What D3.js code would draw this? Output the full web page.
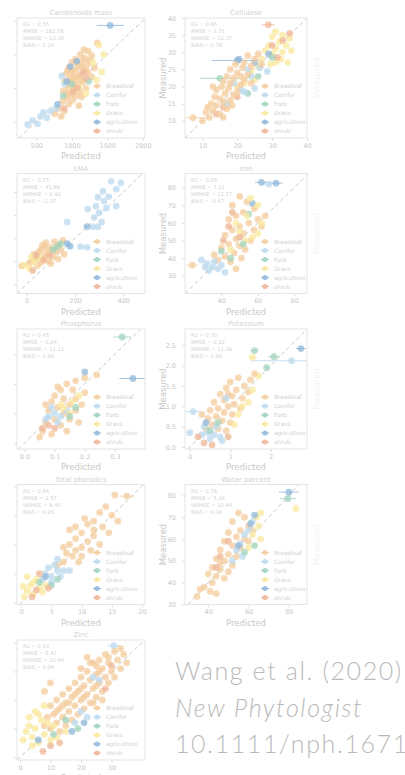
<!DOCTYPE html>
<html>
<head>
<meta charset="utf-8">
<script src="https://cdn.jsdelivr.net/npm/d3@7"></script>
<style>
  html, body { margin: 0; padding: 0; background: #ffffff; }
  svg { display: block; }
</style>
</head>
<body>
<svg id="chart" width="405" height="775"></svg>
<script>
// Plant functional types
const groupNames = ["Broadleaf", "Conifer", "Forb", "Grass", "agriculture", "shrub"];
const groupCodes = ["B", "C", "F", "G", "A", "S"];
const groupColors = ["#f4cc9c", "#bcd9ee", "#9fd3bd", "#f9e9a0", "#8fb7da", "#eeb597"];

// Each point: [predicted, measured, prediction sd, group code]
const carotenoidPoints = [
  [1360,1670,30,"B"],[1170,1570,25,"B"],[1230,1550,30,"B"],[1120,1500,20,"B"],[1280,1480,25,"B"],[1050,1430,20,"B"],
  [1150,1400,25,"B"],[1000,1380,20,"B"],[1230,1360,20,"B"],[1100,1330,20,"B"],[960,1300,20,"B"],[1060,1280,20,"B"],
  [1180,1260,25,"B"],[1010,1230,20,"B"],[920,1210,15,"B"],[1110,1190,20,"B"],[1280,1170,25,"B"],[980,1150,20,"B"],
  [1050,1120,20,"B"],[900,1100,15,"B"],[1160,1090,20,"B"],[1000,1060,20,"B"],[1090,1040,20,"B"],[950,1010,15,"B"],
  [1200,1000,20,"B"],[1030,980,20,"B"],[880,960,15,"B"],[1120,940,20,"B"],[990,910,15,"B"],[1060,880,20,"B"],
  [930,850,15,"B"],[1010,820,20,"B"],[870,800,15,"B"],[960,760,15,"B"],[1100,740,20,"B"],[820,700,15,"B"],
  [900,660,15,"B"],[760,620,15,"B"],[850,580,15,"B"],[1250,1420,25,"B"],[1320,1300,25,"B"],[1080,1180,20,"B"],
  [940,1260,20,"B"],[1140,870,20,"B"],[1150,1320,20,"B"],[1030,1160,20,"B"],[1130,1120,20,"B"],[970,1090,20,"B"],
  [1230,1230,25,"B"],[1070,1380,20,"B"],[990,1250,20,"B"],[1180,1450,25,"B"],[1040,1000,20,"B"],[940,920,15,"B"],
  [1200,1280,25,"B"],
  [380,460,20,"C"],[450,520,20,"C"],[520,470,20,"C"],[560,580,20,"C"],[600,640,20,"C"],[700,660,20,"C"],
  [780,700,20,"C"],[650,560,20,"C"],[900,1060,15,"C"],[860,1180,15,"C"],
  [1000,1060,20,"F"],[1240,1100,20,"F"],[880,890,15,"F"],
  [1380,1640,30,"G"],[1450,1500,30,"G"],[1300,1380,25,"G"],[1420,1240,30,"G"],[1200,920,25,"G"],[1350,1120,30,"G"],[1100,1010,20,"G"],
  [1540,1930,190,"A"],[1070,1400,20,"A"],[980,1320,20,"A"],[930,1100,15,"A"],[800,760,15,"A"],
  [1150,1230,20,"S"],[1020,940,20,"S"],[1200,1150,20,"S"],[890,700,15,"S"],[1080,1000,20,"S"]
];

const cellulosePoints = [
  [31,36,0.8,"G"],[33,35,0.8,"G"],[35,34,0.8,"G"],[30,34.5,0.8,"G"],[32,33,0.8,"G"],[34,32,0.8,"G"],[29,32,0.8,"G"],
  [31,31,0.8,"G"],[33,30,0.8,"G"],[35.5,30.5,0.8,"G"],[30,29.5,0.8,"G"],[32.5,28,0.8,"G"],[34.5,27,0.8,"G"],[28,30.5,0.8,"G"],
  [27,28,0.8,"G"],[29.5,26.5,0.8,"G"],[31,27,0.8,"G"],[26,26,0.8,"G"],[24,24.5,0.8,"G"],[22,21,0.8,"G"],[20,20,0.7,"G"],[25,22,0.7,"G"],
  [28.9,38,1.9,"S"],[33,33.5,1,"S"],[30,32,0.8,"S"],[35,35.5,0.8,"S"],[31.5,28.5,0.8,"S"],[16,14,0.6,"S"],[14,12,0.6,"S"],[20,17,0.6,"S"],
  [20,27.6,7.2,"A"],[20.5,28,0.8,"A"],[25,27,0.6,"A"],[29,29.5,0.8,"A"],
  [15,22.4,5.8,"F"],[26,23,0.6,"F"],[30,28.5,0.6,"F"],[23,18,0.6,"F"],
  [28.6,24.4,0.6,"C"],[24,23,0.6,"C"],[21,19,0.6,"C"],[19,21,0.6,"C"],[23,25,0.6,"C"],[22,18.5,0.6,"C"],[26.5,25.5,0.6,"C"],
  [17,15,0.6,"C"],[25,19.5,0.6,"C"],
  [7.3,10.9,3.4,"B"],[10,10,0.6,"B"],[12,11,0.6,"B"],[11,12.5,0.6,"B"],[13,13,0.6,"B"],[15,12,0.6,"B"],[14,14.5,0.6,"B"],
  [16,15.5,0.6,"B"],[12.5,15,0.6,"B"],[17,13.5,0.6,"B"],[15,16.5,0.6,"B"],[18,16,0.6,"B"],[13.5,17,0.6,"B"],[16.5,18,0.6,"B"],
  [19,17.5,0.6,"B"],[14,19,0.6,"B"],[17.5,19.5,0.6,"B"],[20,18.5,0.6,"B"],[15.5,20,0.6,"B"],[18,21,0.6,"B"],[21,20.5,0.6,"B"],
  [16,21.5,0.6,"B"],[19,22.5,0.6,"B"],[22,22,0.6,"B"],[17,23,0.6,"B"],[20,24,0.6,"B"],[23,23.5,0.6,"B"],[18,25,0.6,"B"],
  [21.5,25.5,0.6,"B"],[24,26,0.6,"B"],[22,27,0.6,"B"],[25,28,0.6,"B"],[19.5,26.5,0.6,"B"],[26,29.5,0.6,"B"],[23,29,0.6,"B"],
  [21,23,0.6,"B"],[24,21,0.6,"B"],[13,20,0.6,"B"],[11.5,14,0.6,"B"],[18.5,14.5,0.6,"B"],[16,11,0.6,"B"],[27,26.5,0.6,"B"]
];

const lmaPoints = [
  [350,446,10,"C"],[371,412,10,"C"],[316,403,10,"C"],[295,377,10,"C"],[340,380,10,"C"],[371,339,10,"C"],[253,326,10,"C"],
  [287,339,10,"C"],[330,330,10,"C"],[300,310,10,"C"],[274,249,10,"C"],[295,249,10,"C"],[310,270,10,"C"],[168,270,10,"C"],
  [223,163,10,"C"],[390,440,10,"C"],[320,360,10,"C"],[280,290,10,"C"],[250,160,10,"C"],
  [84,133,8,"B"],[60,150,8,"B"],[100,160,8,"B"],[120,140,8,"B"],[70,120,8,"B"],[40,110,8,"B"],[90,100,8,"B"],[130,170,8,"B"],
  [50,140,8,"B"],[110,120,8,"B"],[80,180,8,"B"],[140,150,8,"B"],[30,130,8,"B"],[100,90,8,"B"],[60,95,8,"B"],[20,100,8,"B"],
  [150,190,8,"B"],[75,160,8,"B"],[115,185,8,"B"],[45,80,8,"B"],[10,90,8,"B"],[-20,80,12,"B"],[130,110,8,"B"],[95,145,8,"B"],
  [65,170,8,"B"],[155,130,8,"B"],
  [-13,82,10,"G"],[10,70,8,"G"],[30,95,8,"G"],[20,120,8,"G"],[55,115,8,"G"],
  [126,163,8,"F"],[110,150,8,"F"],[140,175,8,"F"],
  [168,176,8,"A"],[180,165,8,"A"],[250,250,8,"A"],
  [40,125,8,"S"],[70,105,8,"S"],[25,60,8,"S"],[95,125,8,"S"]
];

const ironPoints = [
  [62,83,3.5,"A"],[70,82.5,3.5,"A"],[57,71,1,"A"],[55,65,1,"F"],
  [50,75,1,"B"],[54,72,1,"B"],[46,70,1,"B"],[58,68,1,"B"],[52,66,1,"B"],[48,64,1,"B"],[60,62,1,"B"],[44,62,1,"B"],
  [55,60,1,"B"],[50,58,1,"B"],[46,56,1,"B"],[58,56,1,"B"],[52,54,1,"B"],[42,53,1,"B"],[48,51,1,"B"],[56,50,1,"B"],
  [44,48,1,"B"],[50,47,1,"B"],[40,46,1,"B"],[53,45,1,"B"],[47,43,1,"B"],[42,41,1,"B"],[38,39,1,"B"],[45,38,1,"B"],
  [51,40,1,"B"],[62,58,1,"B"],[64,64,1,"B"],[36,42,1,"B"],[24,36,3,"B"],[48,34,1,"B"],
  [56,74,1,"G"],[60,70,1,"G"],[54,64,1,"G"],[62,60,1,"G"],[50,55,1,"G"],[57,52,1,"G"],[48,60,1,"G"],[53,50,1,"G"],[45,45,1,"G"],[60,54,1,"G"],
  [29,39,1.5,"C"],[32,37,1,"C"],[35,35,1,"C"],[38,34,1,"C"],[33,33,1,"C"],[40,36,1,"C"],[36,38,1,"C"],[42,32,1,"C"],[31,35,1,"C"],[66,82,3.5,"C"],
  [45,40,1,"F"],[52,48,1,"F"],[40,44,1,"F"],
  [46,66,1,"S"],[44,58,1,"S"],[50,52,1,"S"],[41,50,1,"S"]
];

const phosphorusPoints = [
  [0.324,0.358,0.03,"F"],[0.36,0.218,0.045,"A"],
  [0.24,0.23,0.006,"B"],[0.2,0.22,0.005,"B"],[0.17,0.21,0.005,"B"],[0.14,0.2,0.005,"B"],[0.12,0.18,0.005,"B"],[0.16,0.18,0.005,"B"],
  [0.2,0.17,0.005,"B"],[0.1,0.16,0.005,"B"],[0.13,0.15,0.005,"B"],[0.17,0.15,0.005,"B"],[0.09,0.14,0.005,"B"],[0.15,0.13,0.005,"B"],
  [0.11,0.12,0.005,"B"],[0.19,0.13,0.005,"B"],[0.08,0.11,0.005,"B"],[0.13,0.1,0.005,"B"],[0.17,0.11,0.005,"B"],[0.1,0.08,0.005,"B"],
  [0.15,0.08,0.005,"B"],[0.07,0.07,0.005,"B"],[0.12,0.06,0.005,"B"],[0.06,0.04,0.005,"B"],[0.09,0.03,0.005,"B"],[0.05,0.02,0.005,"B"],
  [0.14,0.04,0.005,"B"],[0.18,0.07,0.005,"B"],[0.11,0.19,0.005,"B"],[0.07,0.13,0.005,"B"],
  [0.1,0.1,0.005,"C"],[0.12,0.09,0.005,"C"],[0.08,0.09,0.005,"C"],[0.11,0.07,0.005,"C"],[0.14,0.11,0.005,"C"],[0.09,0.12,0.005,"C"],[0.07,0.08,0.005,"C"],
  [0.13,0.12,0.005,"G"],[0.16,0.14,0.005,"G"],[0.15,0.1,0.005,"G"],[0.12,0.13,0.005,"G"],[0.18,0.16,0.005,"G"],
  [0.15,0.09,0.005,"F"],[0.17,0.12,0.005,"F"],
  [0.2,0.24,0.005,"A"],
  [0.06,0.05,0.005,"S"],[0.08,0.06,0.005,"S"],[0.1,0.05,0.005,"S"]
];

const potassiumPoints = [
  [2.75,2.42,0.12,"A"],[2.52,2.12,1.0,"C"],[2.08,2.22,0.15,"F"],[1.6,2.37,0.1,"F"],[1.55,2.2,0.1,"G"],[1.9,1.95,0.05,"F"],[1.7,1.75,0.05,"G"],
  [0.08,0.87,0.2,"C"],
  [1.2,1.7,0.04,"B"],[1.0,1.6,0.04,"B"],[1.35,1.5,0.04,"B"],[0.9,1.45,0.04,"B"],[1.15,1.4,0.04,"B"],[0.75,1.3,0.04,"B"],
  [1.05,1.25,0.04,"B"],[1.3,1.2,0.04,"B"],[0.85,1.15,0.04,"B"],[0.6,1.1,0.04,"B"],[1.1,1.05,0.04,"B"],[0.95,1.0,0.04,"B"],
  [0.7,0.95,0.04,"B"],[1.25,0.95,0.04,"B"],[0.5,0.9,0.04,"B"],[0.85,0.85,0.04,"B"],[1.05,0.8,0.04,"B"],[0.65,0.75,0.04,"B"],
  [0.45,0.7,0.04,"B"],[0.8,0.65,0.04,"B"],[1.0,0.6,0.04,"B"],[0.55,0.55,0.04,"B"],[0.7,0.45,0.04,"B"],[0.9,0.4,0.04,"B"],
  [0.4,0.45,0.04,"B"],[1.45,1.35,0.04,"B"],[1.5,1.65,0.04,"B"],[0.3,0.8,0.04,"B"],[1.6,1.8,0.04,"B"],[0.95,1.3,0.04,"B"],
  [0,0.35,0.04,"C"],[0.3,0.3,0.04,"C"],[0.45,0.35,0.04,"C"],[0.6,0.3,0.04,"C"],[0.5,0.2,0.04,"C"],[0.35,0.5,0.04,"C"],
  [0.75,0.25,0.04,"C"],[0.65,0.5,0.04,"C"],[0.9,1.2,0.04,"C"],[0.8,0.15,0.04,"C"],
  [1.3,1.0,0.04,"G"],[1.45,1.1,0.04,"G"],[1.2,0.8,0.04,"G"],[1.55,1.4,0.04,"G"],[1.1,0.55,0.04,"G"],
  [0.7,0.6,0.04,"F"],[0.5,0.4,0.04,"F"],
  [0.35,0.1,0.04,"S"],[0.55,0.05,0.04,"S"],[0.95,0.25,0.04,"S"],[0.2,0.25,0.04,"S"],
  [0.4,0.6,0.04,"A"]
];

const phenolicsPoints = [
  [15.5,18.5,0.3,"B"],[17.5,18.3,1.2,"B"],[14,16.5,0.3,"B"],[15,15,0.3,"B"],[13,15.5,0.3,"B"],[12,14,0.3,"B"],[13.5,13,0.3,"B"],
  [11,13.5,0.3,"B"],[14.5,12,0.3,"B"],[10,12,0.3,"B"],[12,11.5,0.3,"B"],[9,11,0.3,"B"],[11,10.5,0.3,"B"],[13,10,0.3,"B"],
  [8,10,0.3,"B"],[10,9.5,0.3,"B"],[9,9,0.3,"B"],[11.5,9,0.3,"B"],[7.5,8.5,0.3,"B"],[8.5,8,0.3,"B"],[10,8,0.3,"B"],[7,7,0.3,"B"],
  [9.5,7,0.3,"B"],[6,6.5,0.3,"B"],[12,12.5,0.3,"B"],[8,12.5,0.3,"B"],[16,14,0.3,"B"],[10.5,14.5,0.3,"B"],[9,13,0.3,"B"],[7,9.5,0.3,"B"],
  [4,5,0.3,"C"],[5,4.5,0.3,"C"],[6,5.5,0.3,"C"],[5.5,6.5,0.3,"C"],[4.5,6,0.3,"C"],[6.5,4.5,0.3,"C"],[3.5,4,0.3,"C"],[7,5.5,0.3,"C"],
  [5,3.5,0.3,"C"],[8,5.5,0.3,"C"],[6,7.5,0.3,"C"],
  [1,2,0.4,"G"],[2,1.5,0.4,"G"],[1.5,3,0.4,"G"],[3,2.5,0.4,"G"],[2.5,4,0.4,"G"],[0.5,1,0.4,"G"],[3.5,1.8,0.4,"G"],[2,3.5,0.4,"G"],
  [4,3,0.4,"G"],[1,4.5,0.4,"G"],[0.3,2.8,0.4,"G"],
  [5,3,0.3,"F"],[3,3.5,0.3,"F"],[6,4,0.3,"F"],
  [4,4.5,0.3,"A"],
  [2.5,2.2,0.3,"S"],[4.5,2.5,0.3,"S"],[1.8,1,0.3,"S"],[3,5,0.3,"S"]
];

const waterPoints = [
  [80,81.5,5,"A"],[79.5,78.5,4,"F"],[83.5,74,1,"G"],
  [55,72,0.6,"B"],[58,70,0.6,"B"],[52,68,0.6,"B"],[60,66,0.6,"B"],[56,64,0.6,"B"],[50,63,0.6,"B"],[54,61,0.6,"B"],[58,60,0.6,"B"],
  [48,59,0.6,"B"],[52,57,0.6,"B"],[56,56,0.6,"B"],[46,55,0.6,"B"],[50,53,0.6,"B"],[54,52,0.6,"B"],[44,51,0.6,"B"],[48,50,0.6,"B"],
  [52,48,0.6,"B"],[42,47,0.6,"B"],[46,46,0.6,"B"],[50,45,0.6,"B"],[40,44,0.6,"B"],[44,43,0.6,"B"],[48,42,0.6,"B"],[42,40,0.6,"B"],
  [38,38,0.6,"B"],[41,36,0.6,"B"],[36,37,0.6,"B"],[44,35,0.6,"B"],[34.5,33.7,0.6,"B"],[46,49,0.6,"B"],[62,64,0.6,"B"],[60,59,0.6,"B"],
  [56,58,0.6,"C"],[58,62,0.6,"C"],[54,55,0.6,"C"],[60,64,0.6,"C"],[57,52,0.6,"C"],[62,68,0.6,"C"],[52,50,0.6,"C"],
  [64,70,0.6,"G"],[66,72,0.6,"G"],[62,62,0.6,"G"],[65,66,0.6,"G"],[60,56,0.6,"G"],[66,60,0.6,"G"],
  [63,71,0.6,"A"],[61,67,0.6,"A"],[55,57,0.6,"A"],
  [63,57,0.6,"F"],[58,54,0.6,"F"],
  [50,59,0.6,"S"],[46,52,0.6,"S"],[44,47,0.6,"S"]
];

const zincPoints = [
  [30.7,39,2,"C"],
  [28,36,0.8,"B"],[31,37,0.8,"B"],[26,34,0.8,"B"],[29,33,0.8,"B"],[24,33,0.8,"B"],[32,34,0.8,"B"],[27,31,0.8,"B"],[30,30,0.8,"B"],
  [22,30,0.8,"B"],[25,29,0.8,"B"],[28,28,0.8,"B"],[20,28,0.8,"B"],[23,27,0.8,"B"],[26,26,0.8,"B"],[29,26,0.8,"B"],[18,26,0.8,"B"],
  [21,25,0.8,"B"],[24,24,0.8,"B"],[27,23,0.8,"B"],[16,24,0.8,"B"],[19,23,0.8,"B"],[22,22,0.8,"B"],[25,21,0.8,"B"],[14,22,0.8,"B"],
  [17,21,0.8,"B"],[20,20,0.8,"B"],[23,19,0.8,"B"],[12,20,0.8,"B"],[15,19,0.8,"B"],[18,18,0.8,"B"],[21,17,0.8,"B"],[10,18,0.8,"B"],
  [13,17,0.8,"B"],[16,16,0.8,"B"],[19,15,0.8,"B"],[11,15,0.8,"B"],[14,14,0.8,"B"],[17,13,0.8,"B"],[9,14,0.8,"B"],[12,12,0.8,"B"],
  [15,11,0.8,"B"],[10,10,0.8,"B"],[13,9,0.8,"B"],[8,11,0.8,"B"],[33,31,0.8,"B"],[31,28,0.8,"B"],[34,36,0.8,"B"],[25,32,0.8,"B"],
  [10,26,0.8,"B"],[8,23,0.8,"B"],[22,35,0.8,"B"],[35,33,0.8,"B"],
  [20,31,0.8,"B"],[23,33,0.8,"B"],[26,30,0.8,"B"],[29,35,0.8,"B"],[33,38,0.8,"B"],[18,22,0.8,"B"],[21,21,0.8,"B"],[24,19,0.8,"B"],
  [27,20,0.8,"B"],[16,19,0.8,"B"],[14,18,0.8,"B"],[12,16,0.8,"B"],[20,24,0.8,"B"],[25,25,0.8,"B"],
  [5,16,1.5,"G"],[3,14,1.5,"G"],[7,13,1,"G"],[5,10,1,"G"],[8,8,1,"G"],[4,7,1,"G"],[10,6,1,"G"],[6,5,1,"G"],[12,7,1,"G"],
  [2,9,1,"G"],[9,12,1,"G"],[15,9,1,"G"],[3,11,1.5,"G"],[6,15,1.2,"G"],[1,6,1,"G"],[4,4,1,"G"],[8,18,1.5,"G"],[11,11,1,"G"],
  [24,28,0.8,"C"],[26,27,0.8,"C"],[20,16,0.8,"C"],[18,12,0.8,"C"],[22,14,0.8,"C"],
  [15,13,0.8,"F"],[19,10,0.8,"F"],[11,8,0.8,"F"],
  [17,9,0.8,"A"],[21,12,0.8,"A"],[6,6,0.8,"A"],
  [7.5,2,1,"S"],[10,4,0.8,"S"],[13,5,0.8,"S"],[28,24,0.8,"S"],[30,32,0.8,"S"]
];

// Panel titles, statistics and axis settings
const panelTitles = ["Carotenoids mass", "Cellulose", "LMA", "Iron", "Phosphorus", "Potassium",
                     "Total phenolics", "Water percent", "Zinc"];
const panelStats = [
  ["R2 = 0.55", "RMSE = 182.78", "NRMSE = 13.35", "BIAS = 1.24"],
  ["R2 = 0.65", "RMSE = 3.75", "NRMSE = 12.37", "BIAS = 0.78"],
  ["R2 = 0.77", "RMSE = 41.89", "NRMSE = 9.92", "BIAS = -1.37"],
  ["R2 = 0.55", "RMSE = 7.21", "NRMSE = 12.77", "BIAS = -0.47"],
  ["R2 = 0.45", "RMSE = 0.04", "NRMSE = 11.11", "BIAS = 0.00"],
  ["R2 = 0.70", "RMSE = 0.22", "NRMSE = 11.26", "BIAS = 0.00"],
  ["R2 = 0.84", "RMSE = 1.57", "NRMSE = 8.40", "BIAS = 0.05"],
  ["R2 = 0.78", "RMSE = 5.26", "NRMSE = 10.44", "BIAS = 0.04"],
  ["R2 = 0.53", "RMSE = 5.47", "NRMSE = 10.44", "BIAS = 0.04"]
];
const panelPoints = [carotenoidPoints, cellulosePoints, lmaPoints, ironPoints, phosphorusPoints,
                     potassiumPoints, phenolicsPoints, waterPoints, zincPoints];
const xDomains = [[230,2030],[5,40],[-40,490],[20,87],[-0.025,0.4],[-0.12,2.9],[-0.7,20.5],[28.5,89],[-1,41]];
const yDomains = [[260,2040],[5,40],[-40,480],[20,88],[-0.02,0.385],[-0.05,2.9],[-0.3,20.3],[30,85],[-1,41]];
const xTickValues = [[500,1000,1500,2000],[10,20,30,40],[0,200,400],[40,60,80],[0,0.1,0.2,0.3],[0,1,2],
                     [0,5,10,15,20],[40,60,80],[0,10,20,30]];
const yTickValues = [[500,1000,1500,2000],[10,15,20,25,30,35,40],[0,100,200,300,400],[30,40,50,60,70,80],
                     [0,0.1,0.2,0.3],[0,0.5,1,1.5,2,2.5],[0,5,10,15,20],[30,40,50,60,70,80],[0,10,20,30,40]];
const xTickFormats = ["d","d","d","d",".1f","d","d","d","d"];
const yTickFormats = ["d","d","d","d",".1f",".1f","d","d","d"];

const citationLines = ["Wang et al. (2020)", "New Phytologist", "10.1111/nph.16711"];

// ---- drawing ----
const svg = d3.select("#chart");
const textColor = "#c8c8c8";
const faintText = "#d2d2d2";
const frameColor = "#dfdfdf";
const font = "'DejaVu Sans', sans-serif";
const colorOf = d3.scaleOrdinal().domain(groupCodes).range(groupColors);

const defs = svg.append("defs");

panelTitles.forEach((title, i) => {
  const col = i % 2, row = Math.floor(i / 2);
  const left = col === 0 ? 17 : 185;
  const w = col === 0 ? 128 : 122;
  const top = 18 + row * 155.5;
  const h = 120;

  const x = d3.scaleLinear().domain(xDomains[i]).range([left, left + w]);
  const y = d3.scaleLinear().domain(yDomains[i]).range([top + h, top]);

  const g = svg.append("g");

  defs.append("clipPath").attr("id", "clip" + i)
    .append("rect").attr("x", left).attr("y", top).attr("width", w).attr("height", h);

  // 1:1 line across the shared part of both ranges
  const lo = Math.max(xDomains[i][0], yDomains[i][0]);
  const hi = Math.min(xDomains[i][1], yDomains[i][1]);
  const body = g.append("g").attr("clip-path", `url(#clip${i})`);
  body.append("line")
    .attr("x1", x(lo)).attr("y1", y(lo)).attr("x2", x(hi)).attr("y2", y(hi))
    .attr("stroke", "#c9c9c9").attr("stroke-width", 1).attr("stroke-dasharray", "4,3");

  // error bars and points
  const pts = panelPoints[i];
  body.selectAll("line.err").data(pts).join("line").attr("class", "err")
    .attr("x1", d => x(d[0] - d[2])).attr("x2", d => x(d[0] + d[2]))
    .attr("y1", d => y(d[1])).attr("y2", d => y(d[1]))
    .attr("stroke", d => colorOf(d[3])).attr("stroke-width", 1).attr("stroke-opacity", 0.8);
  body.selectAll("circle").data(pts).join("circle")
    .attr("cx", d => x(d[0])).attr("cy", d => y(d[1])).attr("r", 3.4)
    .attr("fill", d => colorOf(d[3])).attr("fill-opacity", 0.72);

  // frame
  g.append("rect").attr("x", left).attr("y", top).attr("width", w).attr("height", h)
    .attr("fill", "none").attr("stroke", frameColor).attr("stroke-width", 0.8);

  // axes (the left column's y labels sit outside the view)
  const xAxis = d3.axisBottom(x).tickValues(xTickValues[i]).tickSize(3).tickPadding(2)
    .tickFormat(d3.format(xTickFormats[i]));
  const yAxis = d3.axisLeft(y).tickValues(yTickValues[i]).tickSize(3).tickPadding(6)
    .tickFormat(col === 0 ? "" : d3.format(yTickFormats[i]));
  [g.append("g").attr("transform", `translate(0,${top + h})`).call(xAxis),
   g.append("g").attr("transform", `translate(${left},0)`).call(yAxis)].forEach(a => {
    a.select(".domain").remove();
    a.selectAll("line").attr("stroke", frameColor);
    a.selectAll("text").attr("fill", textColor).attr("font-family", font).attr("font-size", 6.5);
  });

  // titles and axis labels
  g.append("text").attr("x", left + w / 2).attr("y", top - 3).attr("text-anchor", "middle")
    .attr("fill", faintText).attr("font-family", font).attr("font-size", 7).text(title);
  g.append("text").attr("x", left + w / 2).attr("y", top + h + 21).attr("text-anchor", "middle")
    .attr("fill", textColor).attr("font-family", font).attr("font-size", 8.5).text("Predicted");
  if (col === 1) {
    g.append("text").attr("transform", `translate(${left - 19},${top + h / 2}) rotate(-90)`)
      .attr("text-anchor", "middle").attr("fill", textColor).attr("font-family", font)
      .attr("font-size", 8.5).text("Measured");
  }

  // statistics
  panelStats[i].forEach((s, k) => {
    g.append("text").attr("x", left + 6).attr("y", top + 8 + k * 7)
      .attr("fill", faintText).attr("font-family", font).attr("font-size", 5.2).text(s);
  });

  // legend
  groupNames.forEach((name, k) => {
    const ly = top + 68 + k * 9;
    const lx = left + 80;
    g.append("line").attr("x1", lx - 4).attr("x2", lx + 4).attr("y1", ly).attr("y2", ly)
      .attr("stroke", groupColors[k]).attr("stroke-width", 1);
    g.append("circle").attr("cx", lx).attr("cy", ly).attr("r", 2.6)
      .attr("fill", groupColors[k]).attr("fill-opacity", 0.85);
    g.append("text").attr("x", lx + 9).attr("y", ly + 2).attr("fill", faintText)
      .attr("font-family", font).attr("font-size", 5.8).text(name);
  });
});

// y labels of the neighbouring column, almost out of view
[0, 1, 2, 3].forEach(row => {
  svg.append("text").attr("transform", `translate(320,${78 + row * 155.5}) rotate(-90)`)
    .attr("text-anchor", "middle").attr("fill", "#f4f4f4").attr("font-family", font)
    .attr("font-size", 8.5).text("Measured");
});

// citation
const cite = svg.append("g").attr("fill", "#bababa").attr("font-family", "Lato, 'Open Sans', sans-serif")
  .attr("font-weight", 300).attr("font-size", 25);
citationLines.forEach((line, k) => {
  cite.append("text").attr("x", 175).attr("y", 680 + k * 36.5)
    .attr("font-style", k === 1 ? "italic" : "normal")
    .attr("letter-spacing", 1.6)
    .text(line);
});
</script>
</body>
</html>
